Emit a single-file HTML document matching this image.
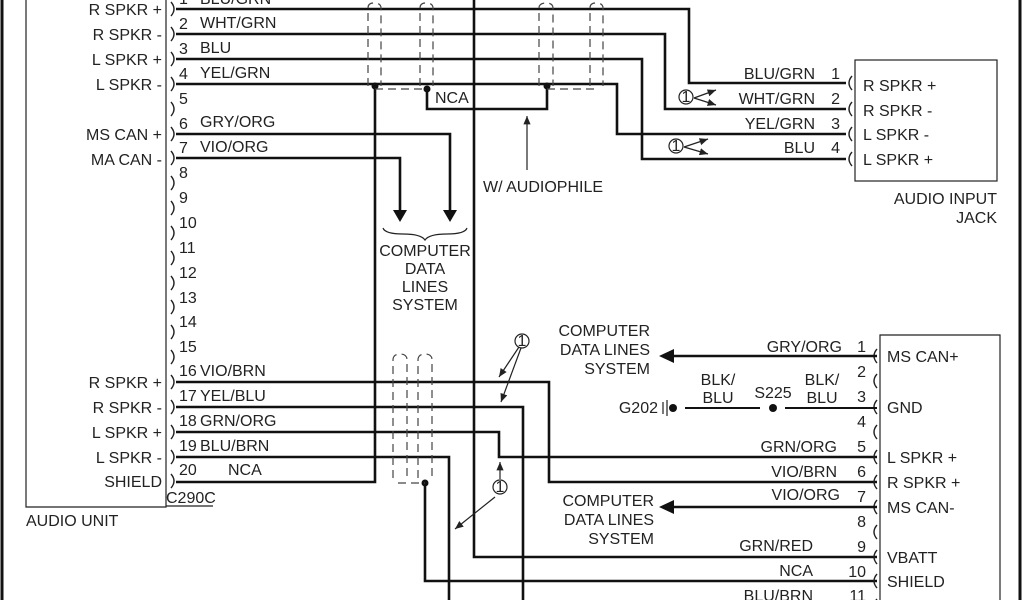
<!DOCTYPE html>
<html><head><style>
html,body{margin:0;padding:0;background:#fff;}
svg{display:block;}
text{font-family:"Liberation Sans",Arial,sans-serif;font-size:16px;fill:#222;}
.w{stroke:#111;stroke-width:2.6;fill:none;}
.t{stroke:#222;stroke-width:1.2;fill:none;}
.d{stroke:#444;stroke-width:1.2;fill:none;stroke-dasharray:8,5;}
.c{stroke:#222;stroke-width:1.4;fill:none;}
</style></head><body>
<svg width="1024" height="600" viewBox="0 0 1024 600" xmlns="http://www.w3.org/2000/svg">
<defs><marker id="a" markerWidth="8" markerHeight="8" refX="7" refY="4" orient="auto"><path d="M0,1 L7,4 L0,7z" fill="#222"/></marker></defs>
<line x1="2" y1="0" x2="2" y2="600" stroke="#111" stroke-width="3"/>
<line x1="1020" y1="0" x2="1020" y2="600" stroke="#111" stroke-width="3"/>
<path class="t" d="M26,0 V507 H166 V0"/>
<text x="26" y="526">AUDIO UNIT</text>
<text x="166" y="503">C290C</text><line x1="166" y1="506" x2="213" y2="506" class="t"/>
<g text-anchor="end">
<text x="162" y="15">R SPKR +</text><text x="162" y="40">R SPKR -</text><text x="162" y="65">L SPKR +</text><text x="162" y="90">L SPKR -</text>
<text x="162" y="140">MS CAN +</text><text x="162" y="165">MA CAN -</text>
<text x="162" y="388">R SPKR +</text><text x="162" y="413">R SPKR -</text><text x="162" y="438">L SPKR +</text><text x="162" y="463">L SPKR -</text><text x="162" y="487">SHIELD</text>
</g>
<g class="c">
<path d="M171,2 q6,7 0,14"/><path d="M171,27 q6,7 0,14"/><path d="M171,52 q6,7 0,14"/><path d="M171,77 q6,7 0,14"/><path d="M171,102 q6,7 0,14"/><path d="M171,127 q6,7 0,14"/><path d="M171,151 q6,7 0,14"/><path d="M171,176 q6,7 0,14"/><path d="M171,201 q6,7 0,14"/><path d="M171,226 q6,7 0,14"/><path d="M171,251 q6,7 0,14"/><path d="M171,276 q6,7 0,14"/><path d="M171,300 q6,7 0,14"/><path d="M171,325 q6,7 0,14"/><path d="M171,350 q6,7 0,14"/><path d="M171,375 q6,7 0,14"/><path d="M171,400 q6,7 0,14"/><path d="M171,425 q6,7 0,14"/><path d="M171,450 q6,7 0,14"/><path d="M171,474 q6,7 0,14"/>
</g>
<text x="179" y="4">1</text><text x="200" y="4">BLU/GRN</text>
<text x="179" y="29">2</text><text x="200" y="28">WHT/GRN</text>
<text x="179" y="54">3</text><text x="200" y="53">BLU</text>
<text x="179" y="79">4</text><text x="200" y="78">YEL/GRN</text>
<text x="179" y="104">5</text>
<text x="179" y="129">6</text><text x="200" y="127">GRY/ORG</text>
<text x="179" y="153">7</text><text x="200" y="152">VIO/ORG</text>
<text x="179" y="178">8</text><text x="179" y="203">9</text><text x="179" y="228">10</text><text x="179" y="253">11</text><text x="179" y="278">12</text><text x="179" y="303">13</text><text x="179" y="327">14</text><text x="179" y="352">15</text>
<text x="179" y="376">16</text><text x="200" y="376">VIO/BRN</text>
<text x="179" y="401">17</text><text x="200" y="401">YEL/BLU</text>
<text x="179" y="426">18</text><text x="200" y="426">GRN/ORG</text>
<text x="179" y="451">19</text><text x="200" y="451">BLU/BRN</text>
<text x="179" y="475">20</text><text x="228" y="475">NCA</text>
<path class="w" d="M474,0 V557 H877"/>
<path class="w" d="M176,9 H689 V83 H846"/>
<path class="w" d="M176,34 H665 V109 H846"/>
<path class="w" d="M176,59 H642 V159 H846"/>
<path class="w" d="M176,84 H617 V134 H846"/>
<path class="w" d="M176,134 H450 V212"/>
<path class="w" d="M176,158 H400 V212"/>
<path d="M393,210 H407 L400,222z M443,210 H457 L450,222z" fill="#111"/>
<path class="t" d="M383,228 q2,6 20,6 q18,0 22,6 q4,-6 22,-6 q18,0 20,-6"/>
<g text-anchor="middle"><text x="425" y="256">COMPUTER</text><text x="425" y="274">DATA</text><text x="425" y="292">LINES</text><text x="425" y="310">SYSTEM</text></g>
<path class="w" d="M375,84 V482 H176"/>
<circle cx="375" cy="86" r="3.5" fill="#111"/>
<path class="w" d="M427,89 V109 H547 V86"/>
<circle cx="427" cy="89" r="3.5" fill="#111"/><circle cx="547" cy="86" r="3.5" fill="#111"/>
<text x="435" y="103">NCA</text>
<g class="d">
<path d="M368,86 V8 q0,-5 6,-5 q7,0 7,5 V86"/><path d="M420,86 V8 q0,-5 6,-5 q7,0 7,5 V86"/><path d="M375,89 H427"/>
<path d="M539,86 V8 q0,-5 7,-5 q7,0 7,5 V86"/><path d="M590,86 V8 q0,-5 6,-5 q7,0 7,5 V86"/><path d="M547,89 H599"/>
</g>
<line x1="527" y1="170" x2="527" y2="116" class="t" marker-end="url(#a)"/>
<text x="483" y="192">W/ AUDIOPHILE</text>
<rect x="855" y="60" width="142" height="121" class="t"/>
<g class="c"><path d="M852,76 q-6,7 0,14"/><path d="M852,102 q-6,7 0,14"/><path d="M852,127 q-6,7 0,14"/><path d="M852,152 q-6,7 0,14"/></g>
<text x="863" y="91">R SPKR +</text><text x="863" y="116">R SPKR -</text><text x="863" y="140">L SPKR -</text><text x="863" y="165">L SPKR +</text>
<g text-anchor="end"><text x="997" y="204">AUDIO INPUT</text><text x="997" y="223">JACK</text>
<text x="815" y="79">BLU/GRN</text><text x="840" y="79">1</text>
<text x="815" y="104">WHT/GRN</text><text x="840" y="104">2</text>
<text x="815" y="129">YEL/GRN</text><text x="840" y="129">3</text>
<text x="815" y="153">BLU</text><text x="840" y="153">4</text></g>
<circle cx="686" cy="97" r="7" class="t"/><text x="686" y="102" text-anchor="middle" font-size="12">1</text>
<line x1="694" y1="98" x2="716" y2="90" class="t" marker-end="url(#a)"/><line x1="694" y1="98" x2="716" y2="105" class="t" marker-end="url(#a)"/>
<circle cx="676" cy="146" r="7" class="t"/><text x="676" y="151" text-anchor="middle" font-size="12">1</text>
<line x1="684" y1="147" x2="708" y2="139" class="t" marker-end="url(#a)"/><line x1="684" y1="147" x2="708" y2="154" class="t" marker-end="url(#a)"/>
<path class="w" d="M176,382 H549 V482 H877"/>
<path class="w" d="M176,407 H523 V600"/>
<path class="w" d="M176,432 H499 V457 H877"/>
<path class="w" d="M176,457 H449 V600"/>
<path class="w" d="M425,482 V581 H877"/>
<circle cx="425" cy="483" r="3.5" fill="#111"/>
<g class="d">
<path d="M393,478 V360 q0,-6 7,-6 q7,0 7,6 V478"/><path d="M418,478 V360 q0,-6 7,-6 q7,0 7,6 V478"/><path d="M398,483 H425"/>
</g>
<circle cx="522" cy="341" r="7" class="t"/><text x="522" y="346" text-anchor="middle" font-size="12">1</text>
<line x1="519" y1="347" x2="499" y2="377" class="t" marker-end="url(#a)"/><line x1="521" y1="348" x2="501" y2="402" class="t" marker-end="url(#a)"/>
<circle cx="500" cy="487" r="7" class="t"/><text x="500" y="492" text-anchor="middle" font-size="12">1</text>
<line x1="500" y1="479" x2="500" y2="462" class="t" marker-end="url(#a)"/>
<line x1="495" y1="497" x2="455" y2="529" class="t" marker-end="url(#a)"/>
<path class="t" d="M880,600 V335 H1000 V600"/>
<g class="c"><path d="M877,349 q-6,7 0,14"/><path d="M877,374 q-6,7 0,14"/><path d="M877,400 q-6,7 0,14"/><path d="M877,425 q-6,7 0,14"/><path d="M877,450 q-6,7 0,14"/><path d="M877,475 q-6,7 0,14"/><path d="M877,500 q-6,7 0,14"/><path d="M877,525 q-6,7 0,14"/><path d="M877,550 q-6,7 0,14"/><path d="M877,574 q-6,7 0,14"/><path d="M877,599 q-6,7 0,14"/></g>
<text x="887" y="362">MS CAN+</text><text x="887" y="413">GND</text><text x="887" y="463">L SPKR +</text><text x="887" y="488">R SPKR +</text><text x="887" y="513">MS CAN-</text><text x="887" y="563">VBATT</text><text x="887" y="587">SHIELD</text>
<g text-anchor="end">
<text x="866" y="352">1</text><text x="866" y="377">2</text><text x="866" y="402">3</text><text x="866" y="427">4</text><text x="866" y="452">5</text><text x="866" y="477">6</text><text x="866" y="502">7</text><text x="866" y="527">8</text><text x="866" y="552">9</text><text x="866" y="577">10</text><text x="866" y="601">11</text>
<text x="842" y="352">GRY/ORG</text><text x="837" y="452">GRN/ORG</text><text x="837" y="477">VIO/BRN</text><text x="840" y="500">VIO/ORG</text><text x="813" y="551">GRN/RED</text><text x="813" y="576">NCA</text><text x="813" y="601">BLU/BRN</text>
<text x="650" y="336">COMPUTER</text><text x="650" y="355">DATA LINES</text><text x="650" y="374">SYSTEM</text>
<text x="654" y="506">COMPUTER</text><text x="654" y="525">DATA LINES</text><text x="654" y="544">SYSTEM</text>
<text x="658" y="413">G202</text>
</g>
<path class="w" d="M877,356 H672"/><path d="M674,349 V363 L659,356z" fill="#111"/>
<path class="w" d="M877,507 H672"/><path d="M674,500 V514 L659,507z" fill="#111"/>
<line x1="663" y1="402" x2="663" y2="414" class="t"/><line x1="667" y1="400" x2="667" y2="416" class="t"/>
<circle cx="673" cy="408" r="4" fill="#111"/>
<line x1="685" y1="408" x2="760" y2="408" stroke="#111" stroke-width="2"/>
<circle cx="773" cy="408" r="4" fill="#111"/>
<line x1="785" y1="408" x2="877" y2="408" stroke="#111" stroke-width="2"/>
<g text-anchor="middle"><text x="718" y="385">BLK/</text><text x="718" y="403">BLU</text><text x="822" y="385">BLK/</text><text x="822" y="403">BLU</text><text x="773" y="398">S225</text></g>
</svg>
</body></html>
